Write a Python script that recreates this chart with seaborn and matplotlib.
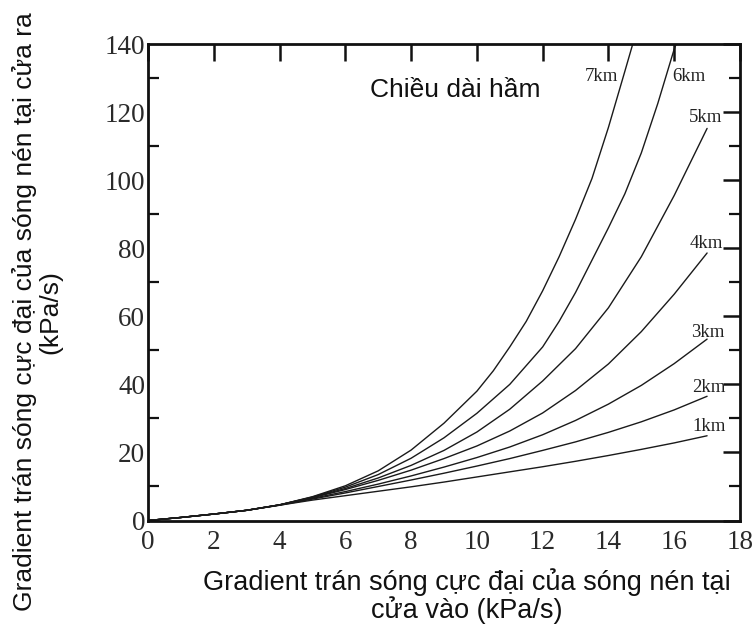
import numpy as np
import pandas as pd
import matplotlib
matplotlib.use("Agg")
import matplotlib.pyplot as plt
from matplotlib.ticker import MultipleLocator
import seaborn as sns

# Inlet peak pressure gradient (kPa/s)
x_main = [0, 1, 2, 3, 4, 5, 6, 7, 8, 9, 10, 11, 12, 13, 14, 15, 16, 17]

# Outlet peak pressure gradient (kPa/s) for each tunnel length
y_1km = [0, 0.9, 1.9, 3.0, 4.5, 6.0, 7.3, 8.6, 9.9, 11.3, 12.8, 14.3, 15.8, 17.4, 19.1, 20.9, 22.8, 24.9]
y_2km = [0, 0.9, 1.9, 3.0, 4.5, 6.3, 8.1, 10.0, 11.9, 13.9, 16.0, 18.2, 20.6, 23.1, 25.9, 29.0, 32.5, 36.5]
y_3km = [0, 0.9, 1.9, 3.0, 4.6, 6.5, 8.5, 10.7, 13.1, 15.7, 18.5, 21.6, 25.2, 29.4, 34.2, 39.7, 46.1, 53.3]
y_4km = [0, 0.9, 1.9, 3.0, 4.6, 6.7, 9.1, 11.8, 14.8, 18.2, 21.9, 26.3, 31.6, 38.2, 46.0, 55.5, 66.5, 78.6]
y_5km = [0, 0.9, 1.9, 3.0, 4.6, 6.8, 9.4, 12.5, 16.2, 20.6, 26.0, 32.7, 41.0, 50.5, 62.5, 77.5, 95.5, 115.2]

x_6km = [0, 1, 2, 3, 4, 5, 6, 7, 8, 9, 10, 11, 12, 12.5, 13, 13.5, 14, 14.5, 15, 15.5, 16, 16.06]
y_6km = [0, 0.9, 1.9, 3.0, 4.6, 6.9, 9.8, 13.5, 18.3, 24.3, 31.5, 40.0, 51.0, 58.5, 67.0, 76.5, 86.0, 96.0, 108.0, 122.5, 138.5, 140.0]

x_7km = [0, 1, 2, 3, 4, 5, 6, 7, 8, 9, 10, 10.5, 11, 11.5, 12, 12.5, 13, 13.5, 14, 14.5, 14.74]
y_7km = [0, 0.9, 1.9, 3.0, 4.6, 7.0, 10.2, 14.6, 20.7, 28.6, 38.0, 44.0, 51.0, 58.5, 67.5, 77.5, 88.5, 100.5, 115.5, 132.0, 140.0]

length_labels = ["1km", "2km", "3km", "4km", "5km", "6km", "7km"]
label_x = [17.05, 17.05, 17.02, 16.97, 16.95, 16.46, 13.78]
label_y = [27.6, 39.2, 55.3, 81.4, 118.3, 130.4, 130.6]

x_ticks = [0, 2, 4, 6, 8, 10, 12, 14, 16, 18]
y_ticks = [0, 20, 40, 60, 80, 100, 120, 140]

title_text = "Chiều dài hầm"
x_label = "Gradient trán sóng cực đại của sóng nén tại\ncửa vào (kPa/s)"
y_label = "Gradient trán sóng cực đại của sóng nén tại cửa ra\n(kPa/s)"

series = [
    (x_main, y_1km), (x_main, y_2km), (x_main, y_3km), (x_main, y_4km),
    (x_main, y_5km), (x_6km, y_6km), (x_7km, y_7km),
]
frames = []
for name, (xs, ys) in zip(length_labels, series):
    frames.append(pd.DataFrame({"inlet": xs, "outlet": ys, "length": name}))
df = pd.concat(frames, ignore_index=True)

sns.set_style("white")
plt.rcParams["font.family"] = ["Liberation Sans", "DejaVu Sans"]

fig = plt.figure(figsize=(7.56, 6.26), dpi=100)
ax = fig.add_axes([0.1958, 0.1685, 0.7830, 0.7612])

sns.lineplot(data=df, x="inlet", y="outlet", units="length", estimator=None,
             sort=False, color="#1a1a1a", linewidth=1.0, ax=ax, legend=False)

ax.set_xlim(0, 18)
ax.set_ylim(0, 140)
ax.set_xticks(x_ticks)
ax.set_yticks(y_ticks)
ax.yaxis.set_minor_locator(MultipleLocator(10))
ax.set_xlabel("")
ax.set_ylabel("")

for s in ax.spines.values():
    s.set_linewidth(2.0)
    s.set_color("#111111")
    s.set_visible(True)

ax.tick_params(axis="both", which="major", direction="in", length=12, width=1.8,
               color="#111111", top=True, right=True)
ax.tick_params(axis="y", which="minor", direction="in", length=8, width=1.6,
               color="#111111", left=True, right=True)
ax.tick_params(axis="x", which="major", pad=7)
ax.tick_params(axis="y", which="major", pad=2)
for lab in ax.get_xticklabels() + ax.get_yticklabels():
    lab.set_fontfamily("Liberation Serif")
    lab.set_fontsize(19.5)
    lab.set_color("#2a2a2a")

for name, lx, ly in zip(length_labels, label_x, label_y):
    ax.text(lx, ly, name, family="Liberation Serif", fontsize=13.5,
            color="#222222", ha="center", va="center")

ax.text(9.34, 124.3, title_text, fontsize=19, color="#111111",
        ha="center", va="baseline")

fig.text(0.618, 0.048, x_label, fontsize=19.5, color="#111111",
         ha="center", va="center", linespacing=1.0)
fig.text(0.049, 0.5016, y_label, fontsize=19, color="#111111", rotation=90,
         ha="center", va="center", linespacing=1.05)

fig.savefig("out.png", dpi=100)
